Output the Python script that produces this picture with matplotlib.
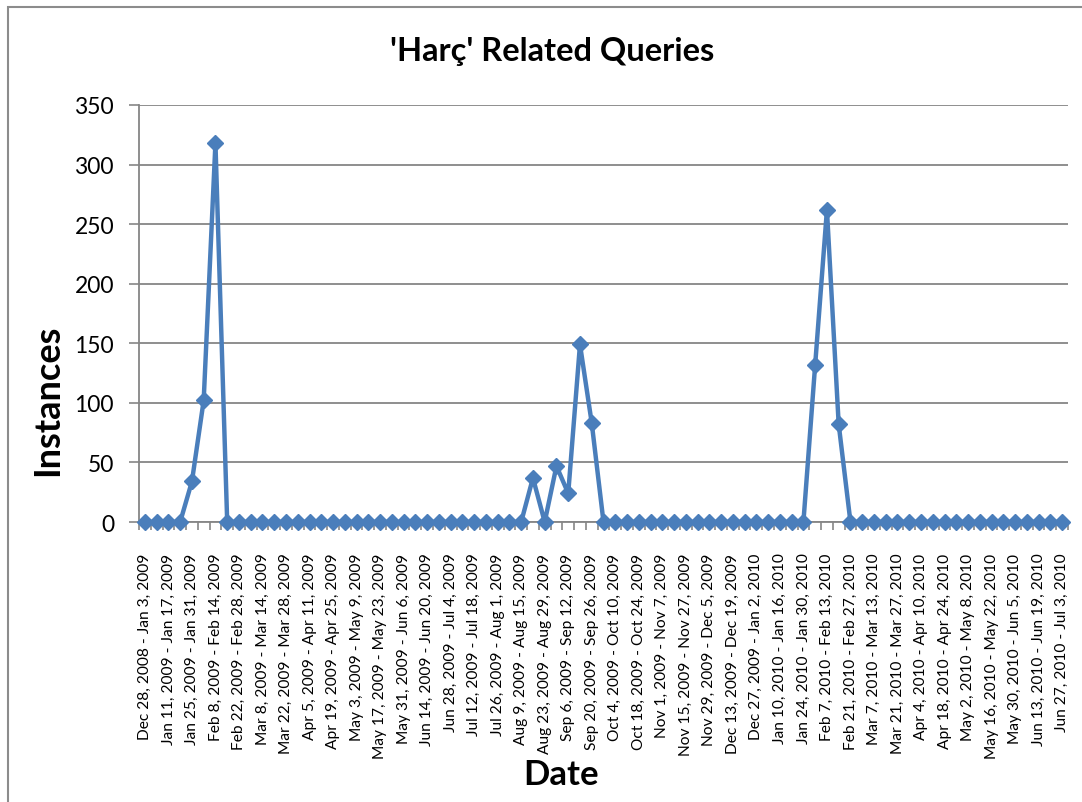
import matplotlib
matplotlib.use("Agg")
import matplotlib.pyplot as plt
from matplotlib.patches import Rectangle
import datetime as dt

plt.rcParams['font.family'] = ['Lato', 'DejaVu Sans']

# weekly categories
start = dt.date(2008, 12, 28)
n_weeks = 79
def fmt(d):
    return f"{d.strftime('%b')} {d.day}, {d.year}"
categories = []
for i in range(n_weeks):
    s = start + dt.timedelta(days=7 * i)
    e = s + dt.timedelta(days=6)
    categories.append(f"{fmt(s)} - {fmt(e)}")
# label as printed in the source chart
categories[46] = "Nov 15, 2009 - Nov 27, 2009"

values = [0, 0, 0, 0, 34, 102, 318, 0, 0, 0,
          0, 0, 0, 0, 0, 0, 0, 0, 0, 0,
          0, 0, 0, 0, 0, 0, 0, 0, 0, 0,
          0, 0, 0, 37, 0, 47, 24, 149, 83, 0,
          0, 0, 0, 0, 0, 0, 0, 0, 0, 0,
          0, 0, 0, 0, 0, 0, 0, 132, 262, 82,
          0, 0, 0, 0, 0, 0, 0, 0, 0, 0,
          0, 0, 0, 0, 0, 0, 0, 0, 0]
y_ticks = [0, 50, 100, 150, 200, 250, 300, 350]

W, H = 1082, 803
fig = plt.figure(figsize=(W / 100, H / 100), dpi=100)
fig.patches.append(Rectangle((8 / W, -0.1), 1.2, 1.1 - 8 / H + 0.0, transform=fig.transFigure,
                             fill=False, edgecolor='#8c8c8c', linewidth=1.5))
ax = fig.add_axes([139 / W, 1 - 523 / H, 929 / W, 417 / H])

x = list(range(n_weeks))
ax.plot(x, values, color='#4A7EBB', linewidth=3.2, marker='D', markersize=8,
        markeredgecolor='#4A7EBB', zorder=3, clip_on=False)

ax.set_xlim(-0.5, n_weeks - 0.5)
ax.set_ylim(0, 350)
ax.set_yticks(y_ticks)
ax.tick_params(axis='y', labelsize=16.5, length=7, color='#868686', width=1.2, pad=11)
ax.yaxis.grid(True, color='#868686', linewidth=1.3)
ax.set_axisbelow(True)

ax.set_xticks(x[::2])
ax.set_xticklabels(categories[::2], rotation=90, fontsize=11.2)
ax.tick_params(axis='x', length=0, pad=22)
ax.set_xticks([i + 0.5 for i in range(-1, n_weeks)], minor=True)
ax.tick_params(axis='x', which='minor', length=6, color='#868686', width=1.2)

for s in ['top', 'right']:
    ax.spines[s].set_visible(False)
for s in ['left', 'bottom']:
    ax.spines[s].set_color('#868686')
    ax.spines[s].set_linewidth(1.3)

fig.text(552 / W, 1 - 52 / H, "'Harç' Related Queries", fontsize=23.5, fontweight='bold',
         ha='center', va='center')
fig.text(48 / W, 1 - 400 / H, 'Instances', fontsize=26, fontweight='bold',
         ha='center', va='center', rotation=90)
fig.text(561 / W, 1 - 775 / H, 'Date', fontsize=25, fontweight='bold',
         ha='center', va='center')

fig.savefig('out.png', dpi=100)
